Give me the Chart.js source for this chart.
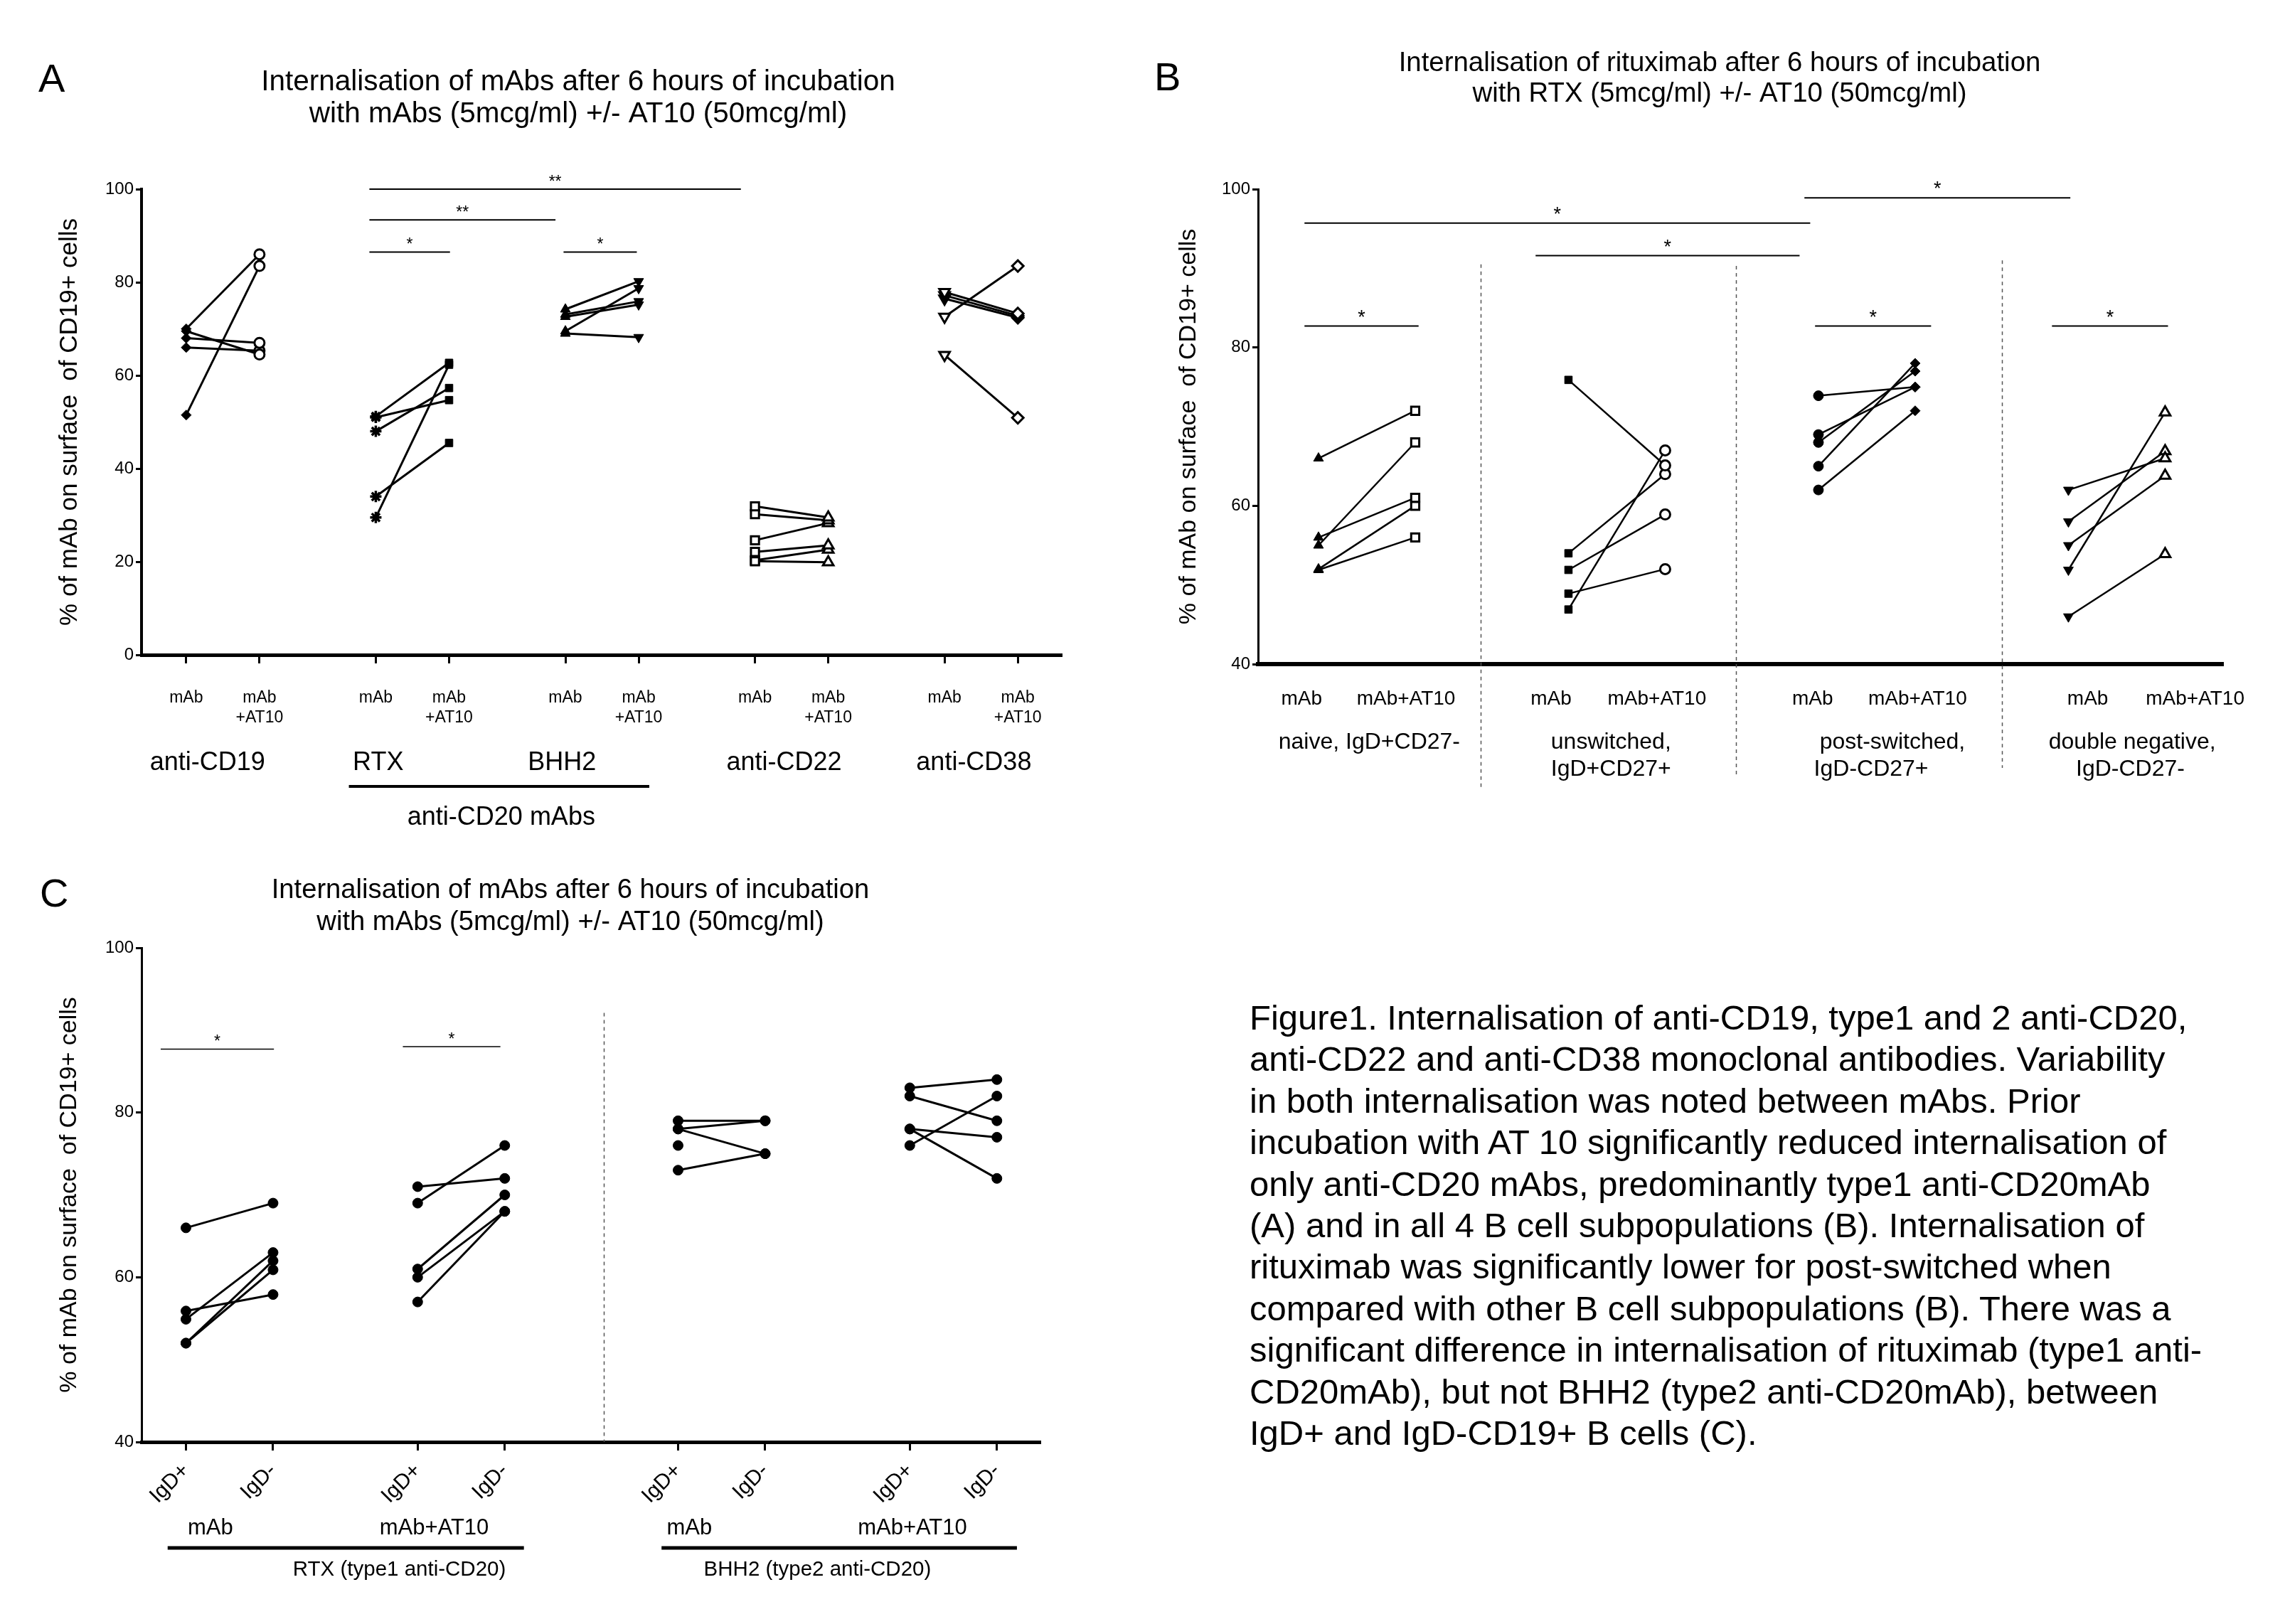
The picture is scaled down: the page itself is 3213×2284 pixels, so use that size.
<!DOCTYPE html>
<html>
<head>
<meta charset="utf-8">
<script src="https://cdn.jsdelivr.net/npm/chart.js@4.4.1/dist/chart.umd.min.js"></script>
<style>
html,body{margin:0;padding:0;background:#fff;}
#page{position:relative;width:3213px;height:2284px;overflow:hidden;background:#fff;}
canvas{position:absolute;}
#caption{position:absolute;left:1757px;top:1402px;font-family:"Liberation Sans",Arial,Helvetica,sans-serif;font-size:49px;line-height:58.4px;white-space:nowrap;color:#000;}
</style>
</head>
<body>
<div id="page">
<canvas id="cA" width="1600" height="1200" style="left:0;top:0;width:1600px;height:1200px"></canvas>
<canvas id="cB" width="1613" height="1200" style="left:1600px;top:0;width:1613px;height:1200px"></canvas>
<canvas id="cC" width="1600" height="1084" style="left:0;top:1200px;width:1600px;height:1084px"></canvas>
<div id="caption">Figure1. Internalisation of anti-CD19, type1 and 2 anti-CD20,<br>anti-CD22 and anti-CD38 monoclonal antibodies. Variability<br>in both internalisation was noted between mAbs. Prior<br>incubation with AT 10 significantly reduced internalisation of<br>only anti-CD20 mAbs, predominantly type1 anti-CD20mAb<br>(A) and in all 4 B cell subpopulations (B). Internalisation of<br>rituximab was significantly lower for post-switched when<br>compared with other B cell subpopulations (B). There was a<br>significant difference in internalisation of rituximab (type1 anti-<br>CD20mAb), but not BHH2 (type2 anti-CD20mAb), between<br>IgD+ and IgD-CD19+ B cells (C).</div>
</div>
<script>
// ===================== DATA =====================
// ---- Panel A ----
const titleA = ['Internalisation of mAbs after 6 hours of incubation', 'with mAbs (5mcg/ml) +/- AT10 (50mcg/ml)'];
const groupsA = ['anti-CD19', 'RTX', 'BHH2', 'anti-CD22', 'anti-CD38'];
const superGroupA = 'anti-CD20 mAbs';
const tickLabelsA = [['mAb'], ['mAb', '+AT10']];
const yTicksA = [0, 20, 40, 60, 80, 100];
const cd19Mab  = [70.0, 69.5, 68.0, 66.0, 51.5];
const cd19At10 = [86.0, 64.5, 67.0, 65.3, 83.5];
const rtxMab   = [51.2, 51.0, 48.0, 29.5, 34.0];
const rtxAt10  = [62.7, 54.7, 57.3, 62.3, 45.5];
const bhh2Mab  = [74.2, 73.1, 72.6, 69.5, 69.0];
const bhh2At10 = [80.2, 75.9, 75.2, 78.7, 68.2];
const cd22Mab  = [31.9, 30.2, 24.6, 22.1, 20.1, 20.3];
const cd22At10 = [29.5, 28.9, 28.3, 23.5, 19.9, 22.6];
const cd38Mab  = [77.9, 77.2, 76.5, 72.6, 64.4];
const cd38At10 = [73.3, 72.8, 72.4, 83.5, 50.9];
const sigA = [
  {from: 3.11, to: 8.18, y: 100.0, text: '**'},
  {from: 3.11, to: 5.65, y: 93.4, text: '**'},
  {from: 3.11, to: 4.21, y: 86.5, text: '*'},
  {from: 5.76, to: 6.76, y: 86.5, text: '*'}
];

// ---- Panel B ----
const titleB = ['Internalisation of rituximab after 6 hours of incubation', 'with RTX (5mcg/ml) +/- AT10 (50mcg/ml)'];
const groupsB = [['naive, IgD+CD27-'], ['unswitched,', 'IgD+CD27+'], ['post-switched,', 'IgD-CD27+'], ['double negative,', 'IgD-CD27-']];
const tickLabelsB = ['mAb', 'mAb+AT10'];
const yTicksB = [40, 60, 80, 100];
const naiveMab  = [66.0, 55.0, 56.0, 52.0, 51.9];
const naiveAt10 = [72.0, 68.0, 61.0, 60.0, 56.0];
const unswMab   = [75.9, 54.0, 51.9, 48.9, 46.9];
const unswAt10  = [65.1, 64.0, 58.9, 52.0, 67.0];
const postMab   = [73.9, 69.0, 68.0, 65.0, 62.0];
const postAt10  = [75.0, 75.0, 77.0, 78.0, 72.0];
const dnMab     = [62.0, 58.0, 55.0, 51.9, 46.0];
const dnAt10    = [66.0, 66.9, 63.8, 71.8, 53.9];
const sigB = [
  {from: 5.65, to: 8.40, y: 98.9, text: '*'},
  {from: 0.48, to: 5.71, y: 95.7, text: '*'},
  {from: 2.87, to: 5.60, y: 91.6, text: '*'},
  {from: 0.48, to: 1.66, y: 82.7, text: '*'},
  {from: 5.76, to: 6.96, y: 82.7, text: '*'},
  {from: 8.21, to: 9.41, y: 82.7, text: '*'}
];

// ---- Panel C ----
const titleC = ['Internalisation of mAbs after 6 hours of incubation', 'with mAbs (5mcg/ml) +/- AT10 (50mcg/ml)'];
const tickLabelsC = ['IgD+', 'IgD-'];
const condLabelsC = ['mAb', 'mAb+AT10', 'mAb', 'mAb+AT10'];
const drugsC = ['RTX (type1 anti-CD20)', 'BHH2 (type2 anti-CD20)'];
const yTicksC = [40, 60, 80, 100];
const rtxMabPos  = [66.0, 55.9, 54.9, 52.0, 52.0];
const rtxMabNeg  = [69.0, 57.9, 63.0, 62.0, 60.9];
const rtxAtPos   = [71.0, 69.0, 61.0, 60.0, 57.0];
const rtxAtNeg   = [72.0, 76.0, 70.0, 68.0, 68.0];
const bhhMabPos  = [79.0, 78.0, 78.0, 73.0, 76.0];
const bhhMabNeg  = [79.0, 79.0, 75.0, 75.0, null];
const bhhAtPos   = [83.0, 82.0, 78.0, 78.0, 76.0];
const bhhAtNeg   = [84.0, 79.0, 77.0, 72.0, 82.0];
const sigC = [
  {from: 0.22, to: 1.52, y: 87.7, text: '*'},
  {from: 3.00, to: 4.12, y: 88.0, text: '*'}
];

// ===================== STYLE / LAYOUT =====================
const FONT = '"Liberation Sans", Arial, Helvetica, sans-serif';
Chart.defaults.font.family = FONT;
Chart.defaults.color = '#000';

const MK = {
  filledDiamond: {shape: 'rectRot', fill: '#000', r: 7, bw: 1},
  openCircle:    {shape: 'circle', fill: '#fff', r: 7, bw: 3},
  star:          {shape: 'star', fill: '#000', r: 8, bw: 3.5},
  filledSquare:  {shape: 'rect', fill: '#000', r: 7.5, bw: 1},
  filledTri:     {shape: 'triangle', fill: '#000', r: 8, bw: 1},
  filledTriDown: {shape: 'triangle', fill: '#000', r: 8, bw: 1, rot: 180},
  openSquare:    {shape: 'rect', fill: '#fff', r: 8, bw: 3},
  openTri:       {shape: 'triangle', fill: '#fff', r: 8.5, bw: 3},
  openTriDown:   {shape: 'triangle', fill: '#fff', r: 8.5, bw: 3, rot: 180},
  openDiamond:   {shape: 'rectRot', fill: '#fff', r: 8, bw: 3},
  dot:           {shape: 'circle', fill: '#000', r: 7, bw: 1}
};

function pairPositions(first, gap, n) {
  const p = [];
  for (let k = 0; k < n; k++) { p.push(first + k * gap, first + k * gap + 1); }
  return p;
}

function pairSets(xa, xb, ya, yb, ma, mb, lw) {
  return ya.map((v, i) => ({
    data: [{x: xa, y: v}, {x: xb, y: yb[i]}],
    showLine: true,
    borderColor: '#000',
    borderWidth: lw,
    pointStyle: [ma.shape, mb.shape],
    pointRotation: [ma.rot || 0, mb.rot || 0],
    pointRadius: [ma.r, mb.r],
    pointBackgroundColor: [ma.fill, mb.fill],
    pointBorderColor: '#000',
    pointBorderWidth: [ma.bw, mb.bw],
    clip: false
  }));
}

function makeDecor(cfg) {
  return {
    id: 'decor',
    beforeDatasetsDraw(chart) {
      const ctx = chart.ctx, xs = chart.scales.x, ys = chart.scales.y, ca = chart.chartArea;
      (cfg.dashed || []).forEach(d => {
        ctx.save();
        ctx.strokeStyle = '#555'; ctx.lineWidth = 1.5; ctx.setLineDash([5, 5]);
        const x = Math.round(xs.getPixelForValue(d.x)) + 0.5;
        ctx.beginPath();
        ctx.moveTo(x, ys.getPixelForValue(d.top));
        ctx.lineTo(x, ca.bottom + (d.below || 0));
        ctx.stroke();
        ctx.restore();
      });
    },
    afterDraw(chart) {
      const ctx = chart.ctx, xs = chart.scales.x, ys = chart.scales.y, ca = chart.chartArea;
      const txt = (t, x, y, size, align) => {
        ctx.save();
        ctx.fillStyle = '#000';
        ctx.font = size + 'px ' + FONT;
        ctx.textAlign = align || 'center';
        ctx.textBaseline = 'alphabetic';
        ctx.fillText(t, x, y);
        ctx.restore();
      };
      const hline = (x1, x2, y, w) => {
        ctx.save();
        ctx.strokeStyle = '#000'; ctx.lineWidth = w;
        ctx.beginPath(); ctx.moveTo(x1, y); ctx.lineTo(x2, y); ctx.stroke();
        ctx.restore();
      };
      // title + panel letter
      cfg.title.lines.forEach((t, i) => txt(t, cfg.title.x, cfg.title.y[i], cfg.title.size, 'center'));
      txt(cfg.letter.text, cfg.letter.x, cfg.letter.y, 56, 'left');
      // significance bars
      cfg.sig.forEach(b => {
        const x1 = xs.getPixelForValue(b.from), x2 = xs.getPixelForValue(b.to), y = ys.getPixelForValue(b.y);
        hline(x1, x2, y, cfg.sigWidth);
        txt(b.text, (x1 + x2) / 2, y - cfg.starGap, cfg.starSize, 'center');
      });
      // labels below the axis
      (cfg.labels || []).forEach(l => txt(l.text, xs.getPixelForValue(l.x), ca.bottom + l.dy, l.size, 'center'));
      (cfg.rules || []).forEach(r => hline(xs.getPixelForValue(r.from), xs.getPixelForValue(r.to), ca.bottom + r.dy, r.w));
    }
  };
}

function baseOptions(p) {
  return {
    responsive: false,
    animation: false,
    devicePixelRatio: 1,
    events: [],
    layout: {autoPadding: false, padding: p.padding},
    plugins: {legend: {display: false}, tooltip: {enabled: false}, title: {display: false}},
    scales: {
      x: {
        type: 'linear', min: 0, max: p.xMax,
        border: {display: true, color: '#000', width: p.xBorder},
        grid: {display: p.xTickMarks, drawOnChartArea: false, drawTicks: true, tickLength: 12, tickWidth: 3, tickColor: '#000', color: '#000'},
        ticks: {
          autoSkip: false, minRotation: p.xRot, maxRotation: p.xRot, padding: p.xPad,
          font: {size: p.xFont, lineHeight: 1.2}, color: '#000',
          callback: (v, i) => p.xLabels[i]
        },
        afterBuildTicks: s => { s.ticks = p.xTicks.map(v => ({value: v})); },
        afterFit: s => { s.height = p.xHeight; s.paddingLeft = 0; s.paddingRight = 0; }
      },
      y: {
        type: 'linear', min: p.yTicks[0], max: p.yTicks[p.yTicks.length - 1],
        border: {display: true, color: '#000', width: p.yBorder},
        grid: {display: true, drawOnChartArea: false, drawTicks: true, tickLength: 8, tickWidth: 3, tickColor: '#000', color: '#000'},
        ticks: {padding: 3, font: {size: 24}, color: '#000'},
        afterBuildTicks: s => { s.ticks = p.yTicks.map(v => ({value: v})); },
        title: {display: true, text: '% of mAb on surface  of CD19+ cells', font: {size: p.yTitleSize}, color: '#000', padding: {top: 4, bottom: 4}},
        afterFit: s => { s.width = p.yWidth; s.paddingTop = 0; s.paddingBottom = 0; }
      }
    }
  };
}

// ===================== PANEL A =====================
const posA = pairPositions(0.61, 2.5875, 5);
const dsA = [].concat(
  pairSets(posA[0], posA[1], cd19Mab, cd19At10, MK.filledDiamond, MK.openCircle, 3),
  pairSets(posA[2], posA[3], rtxMab, rtxAt10, MK.star, MK.filledSquare, 3),
  pairSets(posA[4], posA[5], bhh2Mab, bhh2At10, MK.filledTri, MK.filledTriDown, 3),
  pairSets(posA[6], posA[7], cd22Mab, cd22At10, MK.openSquare, MK.openTri, 3),
  pairSets(posA[8], posA[9], cd38Mab, cd38At10, MK.openTriDown, MK.openDiamond, 3)
);
const groupXA = [0.90, 3.23, 5.74, 8.77, 11.36];
new Chart(document.getElementById('cA'), {
  type: 'scatter',
  data: {datasets: dsA},
  options: baseOptions({
    padding: {left: 73, top: 266, right: 107, bottom: 179},
    xMax: 12.56, xTicks: posA, xLabels: posA.map((v, i) => tickLabelsA[i % 2]),
    xTickMarks: true, xRot: 0, xPad: 35, xFont: 23, xHeight: 100, xBorder: 5,
    yTicks: yTicksA, yBorder: 4, yWidth: 126, yTitleSize: 35
  }),
  plugins: [makeDecor({
    title: {lines: titleA, x: 813, y: [127, 172], size: 40.5},
    letter: {text: 'A', x: 54, y: 129},
    sig: sigA, sigWidth: 2, starSize: 23, starGap: 3,
    labels: groupsA.map((g, i) => ({text: g, x: groupXA[i], dy: 162, size: 36}))
      .concat([{text: superGroupA, x: 4.91, dy: 239, size: 36}]),
    rules: [{from: 2.83, to: 6.93, dy: 185, w: 4}]
  })]
});

// ===================== PANEL B =====================
const posB = pairPositions(0.625, 2.585, 4);
const tickPosB = [0.45, 1.53, 3.03, 4.125, 5.735, 6.82, 8.58, 9.69];
const dsB = [].concat(
  pairSets(posB[0], posB[1], naiveMab, naiveAt10, MK.filledTri, MK.openSquare, 2.5),
  pairSets(posB[2], posB[3], unswMab, unswAt10, MK.filledSquare, MK.openCircle, 2.5),
  pairSets(posB[4], posB[5], postMab, postAt10, MK.dot, MK.filledDiamond, 2.5),
  pairSets(posB[6], posB[7], dnMab, dnAt10, MK.filledTriDown, MK.openTri, 2.5)
);
const groupXB = [[1.15], [3.65, 3.65], [6.56, 6.34], [9.04, 9.02]];
const labelsB = [];
groupsB.forEach((g, gi) => g.forEach((line, li) => labelsB.push({text: line, x: groupXB[gi][li], dy: li === 0 ? 119 : 157, size: 32})));
new Chart(document.getElementById('cB'), {
  type: 'scatter',
  data: {datasets: dsB},
  options: baseOptions({
    padding: {left: 47, top: 266, right: 87, bottom: 166},
    xMax: 9.98, xTicks: tickPosB, xLabels: tickPosB.map((v, i) => tickLabelsB[i % 2]),
    xTickMarks: false, xRot: 0, xPad: 20, xFont: 28, xHeight: 100, xBorder: 6,
    yTicks: yTicksB, yBorder: 3, yWidth: 122, yTitleSize: 34
  }),
  plugins: [makeDecor({
    title: {lines: titleB, x: 818, y: [100, 143], size: 38.4},
    letter: {text: 'B', x: 23, y: 127},
    sig: sigB, sigWidth: 2, starSize: 27, starGap: 4,
    labels: labelsB,
    dashed: [{x: 2.30, top: 90.5, below: 173}, {x: 4.94, top: 90.3, below: 158}, {x: 7.69, top: 91.0, below: 146}]
  })]
});

// ===================== PANEL C =====================
const posC = [0.51, 1.51, 3.17, 4.17, 6.16, 7.16, 8.82, 9.82];
const dsC = [].concat(
  pairSets(posC[0], posC[1], rtxMabPos, rtxMabNeg, MK.dot, MK.dot, 3),
  pairSets(posC[2], posC[3], rtxAtPos, rtxAtNeg, MK.dot, MK.dot, 3),
  pairSets(posC[4], posC[5], bhhMabPos, bhhMabNeg, MK.dot, MK.dot, 3),
  pairSets(posC[6], posC[7], bhhAtPos, bhhAtNeg, MK.dot, MK.dot, 3)
);
const condXC = [0.79, 3.36, 6.29, 8.85];
const drugXC = [2.96, 7.76];
new Chart(document.getElementById('cC'), {
  type: 'scatter',
  data: {datasets: dsC},
  options: baseOptions({
    padding: {left: 73, top: 133, right: 137, bottom: 156},
    xMax: 10.32, xTicks: posC, xLabels: posC.map((v, i) => tickLabelsC[i % 2]),
    xTickMarks: true, xRot: 45, xPad: 11, xFont: 30, xHeight: 100, xBorder: 5,
    yTicks: yTicksC, yBorder: 3, yWidth: 126, yTitleSize: 34
  }),
  plugins: [makeDecor({
    title: {lines: titleC, x: 802, y: [63, 108], size: 38.2},
    letter: {text: 'C', x: 56, y: 75},
    sig: sigC, sigWidth: 1.5, starSize: 23, starGap: 3,
    labels: condLabelsC.map((t, i) => ({text: t, x: condXC[i], dy: 130, size: 31}))
      .concat(drugsC.map((t, i) => ({text: t, x: drugXC[i], dy: 188, size: 29.5}))),
    rules: [{from: 0.30, to: 4.39, dy: 149, w: 5}, {from: 5.97, to: 10.05, dy: 149, w: 5}],
    dashed: [{x: 5.31, top: 92.1, below: 0}]
  })]
});
</script>
</body>
</html>
